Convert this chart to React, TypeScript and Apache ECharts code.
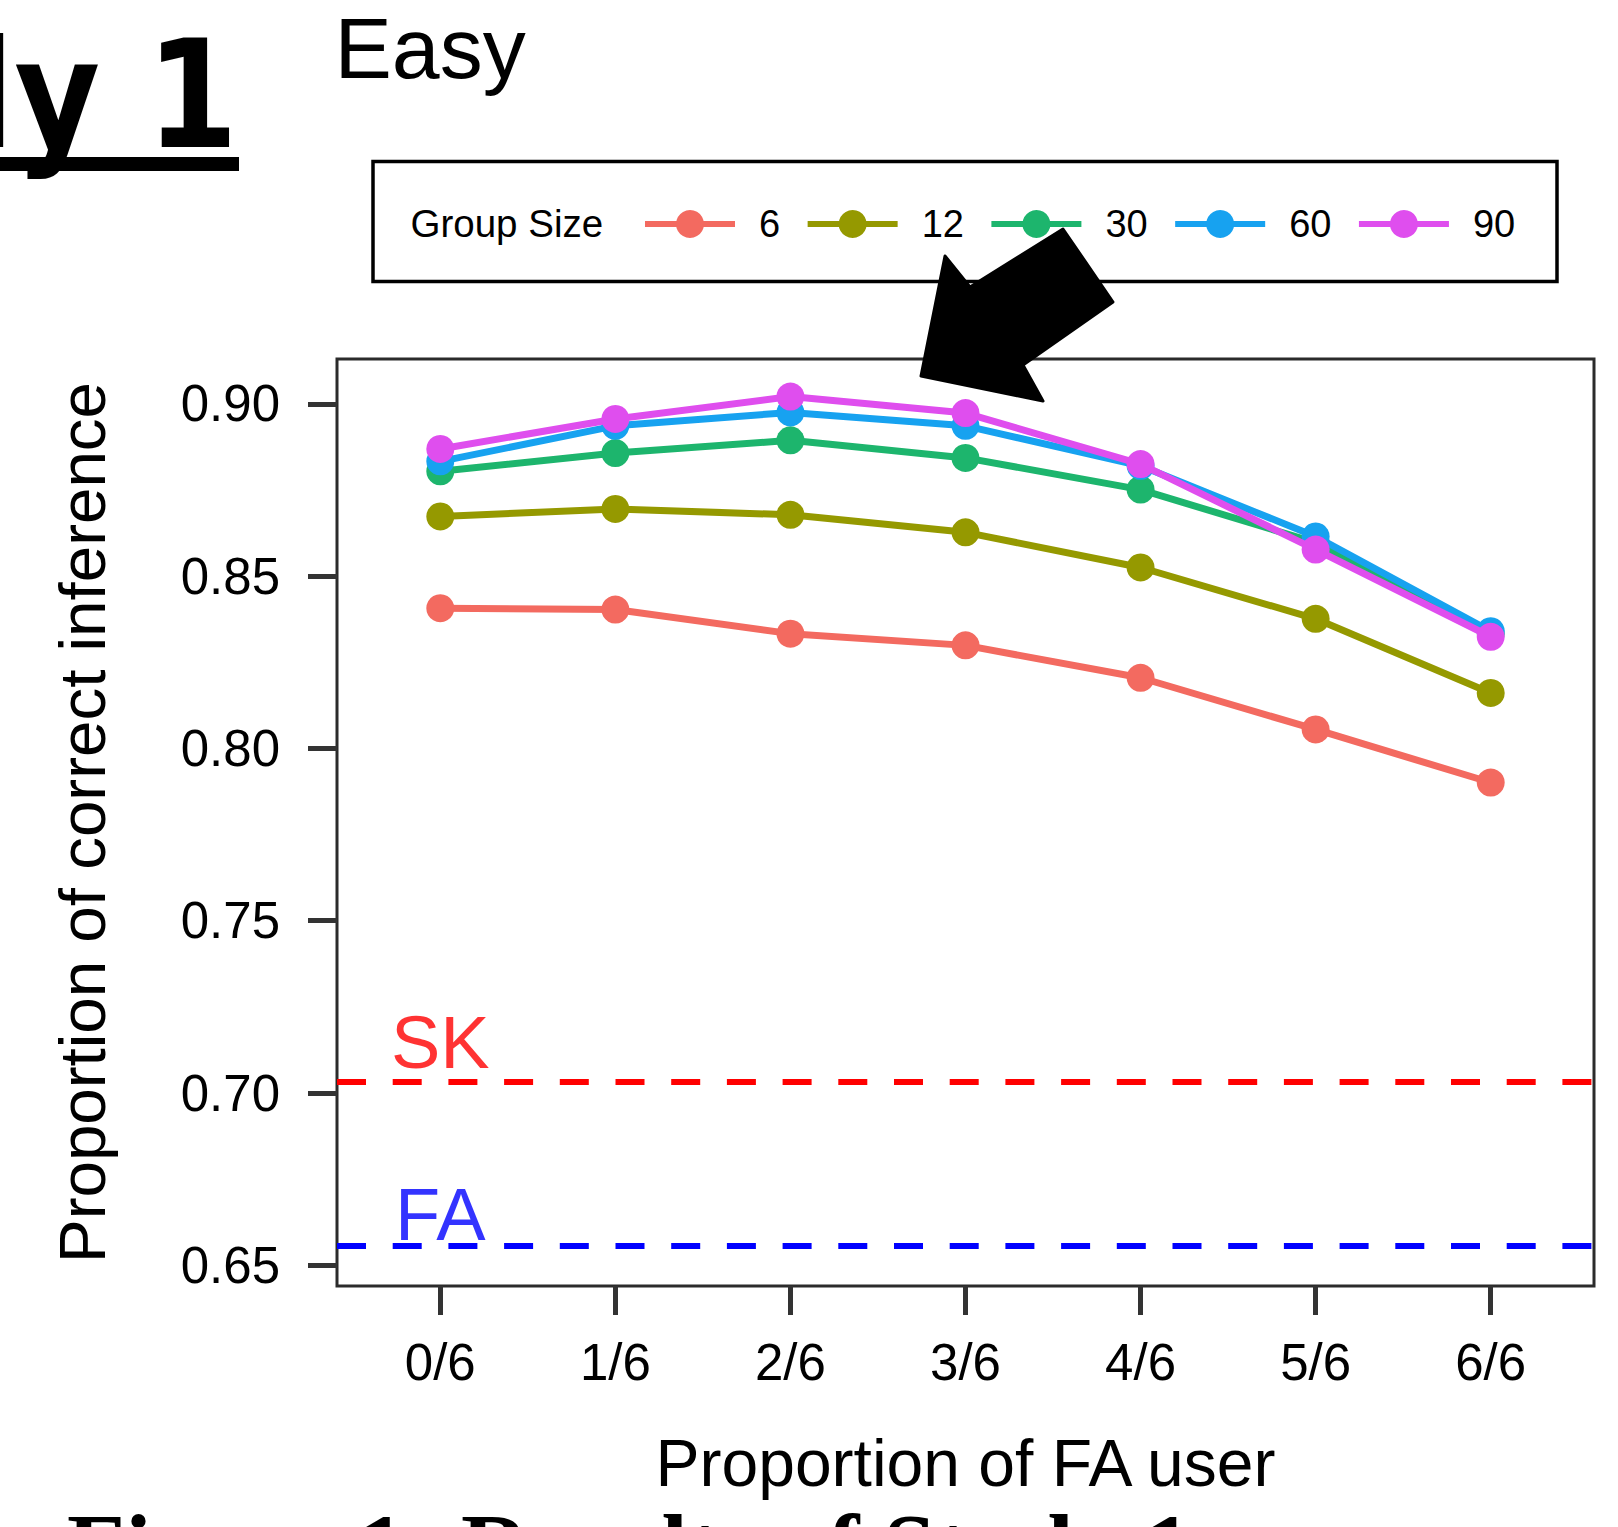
import React, { useEffect, useRef } from 'react';
import * as echarts from 'echarts';

const categories = ['0/6', '1/6', '2/6', '3/6', '4/6', '5/6', '6/6'];
const groupSizes = ['6', '12', '30', '60', '90'];
const size6 = [0.8407, 0.8403, 0.8333, 0.8299, 0.8205, 0.8055, 0.7901];
const size12 = [0.8673, 0.8695, 0.8678, 0.8627, 0.8525, 0.8376, 0.8161];
const size30 = [0.8804, 0.8857, 0.8894, 0.8843, 0.8751, 0.8597, 0.8333];
const size60 = [0.8833, 0.8936, 0.8975, 0.8936, 0.8820, 0.8615, 0.8340];
const size90 = [0.8869, 0.8956, 0.9021, 0.8973, 0.8825, 0.8577, 0.8324];
const seriesValues = [size6, size12, size30, size60, size90];
const yTicks = [0.65, 0.7, 0.75, 0.8, 0.85, 0.9];
const skLevel = 0.7033;
const faLevel = 0.6557;
const colors = ['#F36A60', '#959900', '#1DB56D', '#17A2F0', '#DF4EEE'];

const SANS = '"Liberation Sans", Arial, Helvetica, sans-serif';

export default function App() {
  const ref = useRef<HTMLDivElement>(null);
  useEffect(() => {
    if (!ref.current) return;
    const chart = echarts.init(ref.current, undefined, { renderer: 'svg' });
    const lineSeries = groupSizes.map((name, k) => ({
      type: 'line',
      name,
      data: seriesValues[k].map((v, i) => [i, v]),
      symbol: 'circle',
      symbolSize: 28,
      showSymbol: true,
      lineStyle: { width: 7, color: colors[k] },
      itemStyle: { color: colors[k] },
      z: 3 + k,
    }));
    const refSeries = (name: string, level: number, color: string, dy: number) => ({
      type: 'scatter',
      name,
      data: [[0, level]],
      symbolSize: 0.1,
      itemStyle: { color: 'rgba(0,0,0,0)' },
      label: {
        show: true,
        position: 'top',
        distance: 0,
        offset: [0, dy],
        formatter: name,
        color,
        fontSize: 74,
        fontFamily: SANS,
      },
      markLine: {
        silent: true,
        symbol: 'none',
        precision: 4,
        label: { show: false },
        lineStyle: { type: [29, 26.7], color, width: 6, opacity: 1 },
        data: [{ yAxis: level }],
      },
      z: 2,
    });
    const option = {
      animation: false,
      backgroundColor: '#ffffff',
      grid: {
        left: 337,
        top: 359,
        right: 24,
        bottom: 241,
        show: true,
        borderColor: '#2b2b2b',
        borderWidth: 3,
        containLabel: false,
      },
      xAxis: {
        type: 'value',
        min: -0.59,
        max: 6.59,
        name: 'Proportion of FA user',
        nameLocation: 'middle',
        nameGap: 144,
        nameTextStyle: { fontSize: 66, fontFamily: SANS, color: '#000' },
        axisLine: { show: false, onZero: false },
        splitLine: { show: false },
        axisTick: {
          show: true,
          length: 29,
          lineStyle: { width: 5, color: '#333' },
          customValues: categories.map((_, i) => i),
        },
        axisLabel: {
          show: true,
          margin: 51,
          fontSize: 51,
          fontFamily: SANS,
          color: '#000',
          customValues: categories.map((_, i) => i),
          formatter: (v: number) => categories[Math.round(v)] ?? '',
        },
      },
      yAxis: {
        type: 'value',
        min: 0.644,
        max: 0.913,
        name: 'Proportion of correct inference',
        nameLocation: 'middle',
        nameGap: 222,
        nameRotate: 90,
        nameTextStyle: { fontSize: 65.5, fontFamily: SANS, color: '#000' },
        axisLine: { show: false, onZero: false },
        splitLine: { show: false },
        axisTick: {
          show: true,
          length: 29,
          lineStyle: { width: 5, color: '#333' },
          customValues: yTicks,
        },
        axisLabel: {
          show: true,
          margin: 57,
          fontSize: 51,
          fontFamily: SANS,
          color: '#000',
          padding: [8, 0, 0, 0],
          customValues: yTicks,
          formatter: (v: number) => v.toFixed(2),
        },
      },
      legend: {
        data: groupSizes,
        left: 642,
        top: 205,
        itemWidth: 90,
        itemHeight: 35,
        itemGap: 24.5,
        padding: 0,
        lineStyle: { width: 6 },
        textStyle: { fontSize: 38, fontFamily: SANS, color: '#000', padding: [0, 0, 0, 19] },
      },
      graphic: [
        {
          type: 'text',
          z: 50,
          x: 238,
          y: 95,
          scaleX: 0.88,
          style: {
            text: 'Study 1',
            x: 0,
            y: 0,
            align: 'right',
            textAlign: 'right',
            verticalAlign: 'middle',
            textVerticalAlign: 'middle',
            fontSize: 150,
            fontWeight: 'bold',
            fontFamily: '"DejaVu Sans", sans-serif',
            fill: '#000',
          },
        },
        { type: 'rect', z: 50, shape: { x: 0, y: 157, width: 239, height: 14 }, style: { fill: '#000' } },
        {
          type: 'text',
          z: 50,
          style: {
            text: 'Easy',
            x: 334.5,
            y: 47.6,
            align: 'left',
            textAlign: 'left',
            verticalAlign: 'middle',
            textVerticalAlign: 'middle',
            fontSize: 86,
            fontFamily: SANS,
            fill: '#000',
          },
        },
        {
          type: 'rect',
          z: 40,
          shape: { x: 373, y: 161.5, width: 1184, height: 120 },
          style: { fill: 'none', stroke: '#000', lineWidth: 3.5 },
        },
        {
          type: 'text',
          z: 50,
          style: {
            text: 'Group Size',
            x: 410.5,
            y: 223,
            align: 'left',
            textAlign: 'left',
            verticalAlign: 'middle',
            textVerticalAlign: 'middle',
            fontSize: 38.5,
            fontFamily: SANS,
            fill: '#000',
          },
        },
        {
          type: 'polygon',
          z: 100,
          shape: {
            points: [
              [945, 256],
              [970, 287],
              [1063, 229],
              [1113, 302],
              [1023, 365],
              [1043, 401],
              [921, 376],
            ],
          },
          style: { fill: '#000', stroke: '#000', lineWidth: 3, lineJoin: 'round' },
        },
        {
          type: 'text',
          z: 50,
          style: {
            text: 'Figure 1: Results of Study 1',
            x: 67,
            y: 1548,
            align: 'left',
            textAlign: 'left',
            verticalAlign: 'middle',
            textVerticalAlign: 'middle',
            fontSize: 95,
            fontWeight: 'bold',
            fontFamily: '"Liberation Serif", "Times New Roman", serif',
            fill: '#000',
          },
        },
      ],
      series: [
        refSeries('SK', skLevel, '#ff0000', -2),
        refSeries('FA', faLevel, '#0000ff', 6),
        ...lineSeries,
      ],
    };
    chart.setOption(option as any);
    return () => chart.dispose();
  }, []);
  return (
    <div
      ref={ref}
      style={{ position: 'fixed', left: 0, top: 0, width: 1618, height: 1527, background: '#fff' }}
    />
  );
}
